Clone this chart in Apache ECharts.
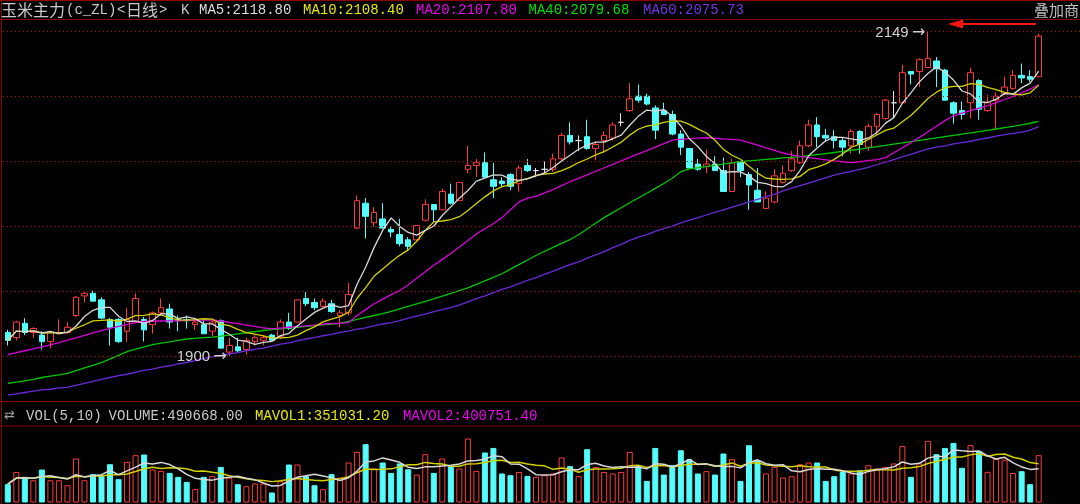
<!DOCTYPE html>
<html><head><meta charset="utf-8">
<script src="https://cdn.jsdelivr.net/npm/echarts@6/dist/echarts.min.js"></script>
<style>html,body{margin:0;padding:0;background:#000;}#c{width:1080px;height:504px;}</style>
</head><body><div id="c"></div>
<script>
const opens = [1918,1914,1925,1918,1916,1911,1917,1918,1931,1946,
1948,1943,1928,1928,1919,1926,1928,1924,1933,1936,
1928,1928,1924,1924,1919,1927,1903,1907,1905,1911,
1912,1916,1915,1926,1926,1944,1941,1938,1940,1931,
1933,1998,2017,2002,2005,1997,1993,1989,1989,2004,
2016,2012,2024,2019,2043,2046,2048,2035,2034,2039,
2032,2046,2042,2043,2043,2051,2069,2065,2068,2059,
2065,2067,2079,2088,2099,2099,2090,2088,2085,2070,
2059,2047,2045,2047,2042,2026,2049,2039,2027,2013,
2018,2033,2042,2048,2061,2077,2069,2068,2065,2061,
2072,2060,2076,2082,2094,2094,2118,2118,2121,2126,
2119,2094,2088,2094,2111,2088,2096,2101,2105,2115,
2114,2114];
const closes = [1912,1926,1918,1921,1911,1918,1918,1922,1945,1948,
1942,1929,1922,1911,1928,1944,1920,1933,1937,1926,
1927,1927,1926,1917,1926,1906,1908,1904,1912,1914,
1914,1912,1926,1921,1943,1940,1937,1942,1934,1933,
1947,2019,2007,2010,1998,1995,1986,1984,2000,2016,
2012,2026,2017,2033,2046,2048,2037,2030,2032,2030,
2044,2042,2042,2043,2051,2069,2064,2065,2059,2062,
2069,2077,2079,2097,2096,2093,2073,2085,2070,2060,
2044,2043,2047,2042,2026,2048,2042,2031,2018,2021,
2038,2040,2051,2061,2077,2068,2067,2065,2060,2072,
2062,2076,2085,2096,2094,2117,2116,2127,2128,2120,
2096,2086,2085,2117,2089,2094,2099,2106,2115,2113,
2112,2145];
const lows = [1908,1912,1916,1914,1905,1906,1917,1917,1930,1941,
1942,1928,1908,1910,1911,1926,1911,1917,1931,1921,
1919,1921,1920,1917,1915,1906,1900,1903,1901,1908,
1908,1911,1913,1920,1926,1938,1935,1937,1933,1922,
1931,1997,1990,1999,1998,1991,1984,1981,1988,2003,
2003,2012,2016,2019,2040,2037,2037,2021,2030,2027,
2026,2041,2037,2040,2041,2050,2062,2057,2058,2050,
2056,2065,2076,2087,2094,2092,2066,2085,2069,2054,
2043,2042,2040,2042,2026,2026,2037,2012,2018,2013,
2017,2032,2041,2047,2060,2060,2064,2059,2053,2055,
2055,2057,2069,2081,2083,2094,2108,2106,2121,2106,
2096,2078,2081,2082,2081,2087,2074,2100,2104,2109,
2110,2114];
const highs = [1920,1927,1929,1922,1919,1919,1928,1926,1946,1949,
1950,1945,1929,1929,1937,1948,1930,1934,1944,1940,
1931,1931,1928,1928,1928,1928,1914,1914,1914,1916,
1916,1917,1928,1933,1943,1949,1944,1944,1943,1935,
1956,2023,2021,2014,2017,1999,2005,1991,2000,2020,
2016,2028,2032,2033,2061,2051,2056,2048,2037,2040,
2046,2051,2044,2049,2055,2071,2079,2069,2081,2064,
2072,2079,2086,2109,2108,2101,2092,2094,2088,2073,
2059,2051,2058,2053,2052,2051,2049,2041,2044,2026,
2043,2046,2057,2065,2081,2083,2074,2073,2067,2074,
2073,2078,2086,2097,2103,2123,2118,2128,2149,2129,
2120,2095,2095,2121,2112,2100,2102,2114,2119,2124,
2119,2147];
const volumes = [190000,317000,266000,231000,342000,231000,231000,179000,456000,231000,
294000,283000,397000,242000,421000,491000,498000,342000,328000,307000,
266000,214000,138000,266000,276000,369000,259000,190000,169000,197000,
197000,104000,221000,394000,394000,273000,179000,138000,294000,259000,
415000,525000,605000,353000,415000,307000,405000,345000,290000,501000,
307000,456000,377000,353000,664000,328000,519000,566000,301000,283000,
317000,276000,266000,283000,301000,467000,377000,273000,553000,369000,
317000,301000,317000,525000,377000,224000,566000,290000,387000,542000,
449000,301000,325000,290000,508000,449000,224000,594000,439000,301000,
369000,259000,273000,397000,415000,415000,224000,273000,317000,301000,
335000,387000,353000,369000,405000,587000,266000,405000,639000,501000,
566000,618000,360000,595000,532000,318000,452000,444000,306000,325000,
190000,490668];
const ma20 = [1901,1902.5,1904,1905.5,1907,1908.5,1910.3,1912.1,1913.9,1915.8,
1917.6,1919.4,1921.2,1922.7,1924.1,1925.6,1926.4,1926.6,1926.8,1926.9,
1927,1927.2,1927.3,1927.5,1927.6,1926.8,1925.7,1924.7,1923.7,1922.7,
1921.6,1920.8,1921.4,1922,1922.6,1923.1,1923.7,1924.3,1924.9,1925,
1925.5,1931,1935.5,1940,1943.5,1947,1950,1954.5,1959.5,1964.5,
1969.5,1974,1978.5,1983.5,1988.5,1993.5,1997.5,2001.5,2006,2012,
2018,2021,2022.3,2025,2027.5,2030.5,2033.5,2036,2038.7,2041.5,
2044.2,2046.8,2049.5,2052.2,2054.9,2057.4,2060,2062.7,2065.3,2066,
2066.5,2066.9,2067.2,2066.8,2066.3,2065.9,2065.4,2063.5,2061.5,2059.5,
2057.5,2055.5,2054,2052.9,2052,2051.2,2050.3,2049.5,2048.8,2048.1,
2048.8,2049.7,2050.5,2052,2055.7,2059.5,2063.3,2067.5,2071.8,2076,
2080.3,2084,2086,2087.9,2089.8,2091.7,2094.1,2096.5,2098.9,2101.6,
2104.5,2107.8];
const ma40 = [1879,1880,1881,1882,1883.5,1884.5,1885.5,1886.7,1888.8,1890.8,
1892.8,1894.9,1897.7,1900.5,1903.3,1905.2,1907,1908.7,1909.8,1910.8,
1911.9,1913,1913.5,1914,1914.5,1915.2,1916,1917,1917.8,1918.7,
1919.5,1920.2,1920.8,1921.5,1922,1922.6,1923.2,1923.8,1924.4,1925,
1926.5,1928,1929.5,1931,1932.5,1934.2,1936.1,1938,1940,1941.8,
1943.7,1945.8,1947.9,1950.1,1952.2,1954.8,1957.5,1960.2,1963,1966.5,
1970,1973.5,1977,1980.2,1983.2,1986.2,1989.2,1992.9,1997.3,2001.7,
2006,2009.8,2013.6,2017.4,2021,2024.7,2028.4,2032.1,2036.2,2041.2,
2043.3,2044.2,2045.2,2046.1,2047,2048,2048.9,2049.5,2050,2050.6,
2051.1,2051.7,2052.2,2052.7,2053.5,2054.3,2055.1,2055.9,2056.7,2057.6,
2058.5,2059.5,2060.4,2061.3,2062.3,2063.2,2064.2,2065.2,2066.2,2067.1,
2068.1,2069,2070,2071,2071.9,2072.9,2073.9,2074.9,2075.9,2077,
2078.3,2079.7];
const ma60 = [1870,1871,1872,1873,1874,1874.5,1875.5,1876,1877.5,1879,
1880.5,1882,1883.5,1885,1886,1887.5,1889,1890,1891.5,1892.5,
1894,1895,1896.5,1898,1899.5,1900.5,1901.5,1902.5,1904,1905,
1906,1907.5,1909,1910,1911.5,1913,1914,1915.5,1916.5,1918,
1919,1920.5,1921.5,1923,1924.5,1925.5,1927,1929,1930.5,1932,
1934,1935.5,1937,1939,1941.5,1944,1946,1948.5,1951,1953,
1955.5,1958,1960,1962.5,1965,1967.5,1970,1972,1975,1977.5,
1980,1983,1985.5,1988.5,1991,1993,1995.5,1997.5,1999.5,2002,
2004,2006,2008,2010,2012,2014,2016,2018,2020,2022,
2024,2026.5,2028.5,2030.5,2032.5,2034.5,2036.5,2038.5,2040,2041.5,
2043,2044.5,2046.5,2048.5,2050.5,2052.5,2054.5,2056.5,2058.5,2060,
2061,2062.5,2063.5,2064.5,2066,2067,2068.5,2069.5,2070.5,2071.5,
2073,2075.7];
const gridLevels = [1900, 1949.8, 1999.6, 2049.4, 2099.2, 2149];
const headerLabels = {
  title1: '玉米主力', title2: '(c_ZL)', title3: '<', title4: '日线', title5: '>', k: 'K',
  ma5: 'MA5:2118.80', ma10: 'MA10:2108.40', ma20: 'MA20:2107.80', ma40: 'MA40:2079.68', ma60: 'MA60:2075.73',
  overlay: '叠加商',
  vol: 'VOL(5,10)', volume: 'VOLUME:490668.00', mavol1: 'MAVOL1:351031.20', mavol2: 'MAVOL2:400751.40'
};

const categories = closes.map((_, i) => String(i + 1));
function sma(arr, n) {
  return arr.map((_, i) => {
    const s = Math.max(0, i - n + 1);
    let t = 0; for (let k = s; k <= i; k++) t += arr[k];
    return +(t / (i - s + 1)).toFixed(2);
  });
}
const ma5 = sma(closes, 5), ma10 = sma(closes, 10);
const vma5 = sma(volumes, 5), vma10 = sma(volumes, 10);

const RED = '#ff3a3a', CYAN = '#54fcfc', WHITE = '#e6e6e6';
const candleData = opens.map((o, i) => {
  const v = [o, closes[i], lows[i], highs[i]];
  if (o === closes[i]) return { value: v, itemStyle: { color: WHITE, color0: WHITE, borderColor: WHITE, borderColor0: WHITE } };
  return v;
});
const volData = volumes.map((v, i) => {
  const up = closes[i] >= opens[i];
  return { value: v, itemStyle: up ? { color: '#000', borderColor: RED, borderWidth: 1 } : { color: CYAN, borderColor: CYAN, borderWidth: 1 } };
});

const MONO = '14px "Liberation Mono", "DejaVu Sans Mono", monospace';
const CJK16 = '16px "Noto Sans CJK SC"';
function txt(x, y, text, fill, font) {
  return { type: 'text', x: x, y: y, silent: true, z: 10,
    style: { text: text, fill: fill, font: font || MONO, verticalAlign: 'middle', align: 'left' } };
}
function hline(y, h, col) {
  return { type: 'rect', silent: true, z: 9, shape: { x: 0, y: y, width: 1080, height: h || 1 }, style: { fill: col || '#8c0000' } };
}

const chart = echarts.init(document.getElementById('c'), null, { renderer: 'canvas' });
chart.setOption({
  backgroundColor: '#000',
  animation: false,
  grid: [
    { left: 3.54, right: 37.06, top: 20, height: 381 },
    { left: 3.54, right: 37.06, top: 430, bottom: 1.5 },
    { left: 3, right: 0, top: 20, height: 381 }
  ],
  xAxis: [
    { type: 'category', data: categories, gridIndex: 0, boundaryGap: true, show: false },
    { type: 'category', data: categories, gridIndex: 1, boundaryGap: true, show: false },
    { type: 'value', gridIndex: 2, min: 0, max: 1, show: false }
  ],
  yAxis: [
    { type: 'value', gridIndex: 0, min: 1865.5, max: 2157.4, show: false, splitLine: { show: false } },
    { type: 'value', gridIndex: 1, min: 0, max: 752000, show: false, splitLine: { show: false } },
    { type: 'value', gridIndex: 2, min: 1865.5, max: 2157.4, show: false, splitLine: { show: false } }
  ],
  series: [
    { type: 'line', xAxisIndex: 2, yAxisIndex: 2, data: [[0, 1900]], symbol: 'none', lineStyle: { opacity: 0 }, z: 1,
      markLine: { silent: true, symbol: ['none', 'none'], label: { show: false },
        lineStyle: { color: '#b40000', type: [1, 3], width: 1 },
        data: gridLevels.map(v => ({ yAxis: v })) } },
    { type: 'candlestick', xAxisIndex: 0, yAxisIndex: 0, data: candleData, barWidth: 6, z: 2,
      itemStyle: { color: '#000', color0: CYAN, borderColor: RED, borderColor0: CYAN, borderWidth: 1 },
      markPoint: {
        symbol: 'circle', symbolSize: 1, itemStyle: { color: 'rgba(0,0,0,0)' },
        label: { show: true, position: 'left', distance: 2, color: '#d0d0d0',
          formatter: p => '{n|' + Math.round(p.value) + '} {a|→}',
          rich: {
            n: { fontSize: 15, color: '#d0d0d0', fontFamily: '"Liberation Sans", sans-serif' },
            a: { fontSize: 16, color: '#d0d0d0', fontFamily: '"DejaVu Sans", sans-serif' }
          } },
        data: [
          { type: 'max', valueDim: 'highest', label: { offset: [0, 2] } },
          { type: 'min', valueDim: 'lowest', label: { offset: [0, 1] } }
        ]
      } },
    { type: 'line', xAxisIndex: 0, yAxisIndex: 0, data: ma60, symbol: 'none', lineStyle: { color: '#6a28dc', width: 1.3 }, z: 3 },
    { type: 'line', xAxisIndex: 0, yAxisIndex: 0, data: ma40, symbol: 'none', lineStyle: { color: '#00c800', width: 1.3 }, z: 3 },
    { type: 'line', xAxisIndex: 0, yAxisIndex: 0, data: ma20, symbol: 'none', lineStyle: { color: '#d800d8', width: 1.3 }, z: 3 },
    { type: 'line', xAxisIndex: 0, yAxisIndex: 0, data: ma10, symbol: 'none', lineStyle: { color: '#d2d200', width: 1.3 }, z: 3 },
    { type: 'line', xAxisIndex: 0, yAxisIndex: 0, data: ma5, symbol: 'none', lineStyle: { color: '#d8d8d8', width: 1.3 }, z: 3 },
    { type: 'bar', xAxisIndex: 1, yAxisIndex: 1, data: volData, barWidth: 6, z: 2 },
    { type: 'line', xAxisIndex: 1, yAxisIndex: 1, data: vma10, symbol: 'none', lineStyle: { color: '#d2d200', width: 1.5 }, z: 3 },
    { type: 'line', xAxisIndex: 1, yAxisIndex: 1, data: vma5, symbol: 'none', lineStyle: { color: '#d8d8d8', width: 1.5 }, z: 3 }
  ],
  graphic: [
    hline(0, 1), hline(19, 1), hline(401, 1), hline(425.5, 1),
    { type: 'rect', silent: true, z: 9, shape: { x: 1, y: 0, width: 1, height: 504 }, style: { fill: '#8c0000' } },
    txt(1, 10, headerLabels.title1, '#c8c8c8', CJK16),
    txt(66, 10, headerLabels.title2, '#c8c8c8'),
    txt(117, 10, headerLabels.title3, '#c8c8c8'),
    txt(126, 10, headerLabels.title4, '#c8c8c8', CJK16),
    txt(159, 10, headerLabels.title5, '#c8c8c8'),
    txt(181, 10, headerLabels.k, '#c8c8c8'),
    txt(199, 10, headerLabels.ma5, '#dcdcdc'),
    txt(303, 10, headerLabels.ma10, '#e8e800'),
    txt(416, 10, headerLabels.ma20, '#f000f0'),
    txt(528.5, 10, headerLabels.ma40, '#00e000'),
    txt(643, 10, headerLabels.ma60, '#7434e4'),
    txt(1034, 10, headerLabels.overlay, '#c0c0c0', '15px "Noto Sans CJK SC"'),
    { type: 'line', silent: true, z: 10, shape: { x1: 1036, y1: 24, x2: 958, y2: 24 }, style: { stroke: '#ff1414', lineWidth: 2 } },
    { type: 'polygon', silent: true, z: 10, shape: { points: [[948, 24], [963, 19.5], [963, 28.5]] }, style: { fill: '#ff1414' } },
    txt(4, 416, '⇄', '#a0a0a0', '13px "DejaVu Sans"'),
    txt(26, 416, headerLabels.vol, '#c8c8c8'),
    txt(108.5, 416, headerLabels.volume, '#c8c8c8'),
    txt(255, 416, headerLabels.mavol1, '#e8e800'),
    txt(403, 416, headerLabels.mavol2, '#f000f0')
  ]
});
</script>
</body></html>
